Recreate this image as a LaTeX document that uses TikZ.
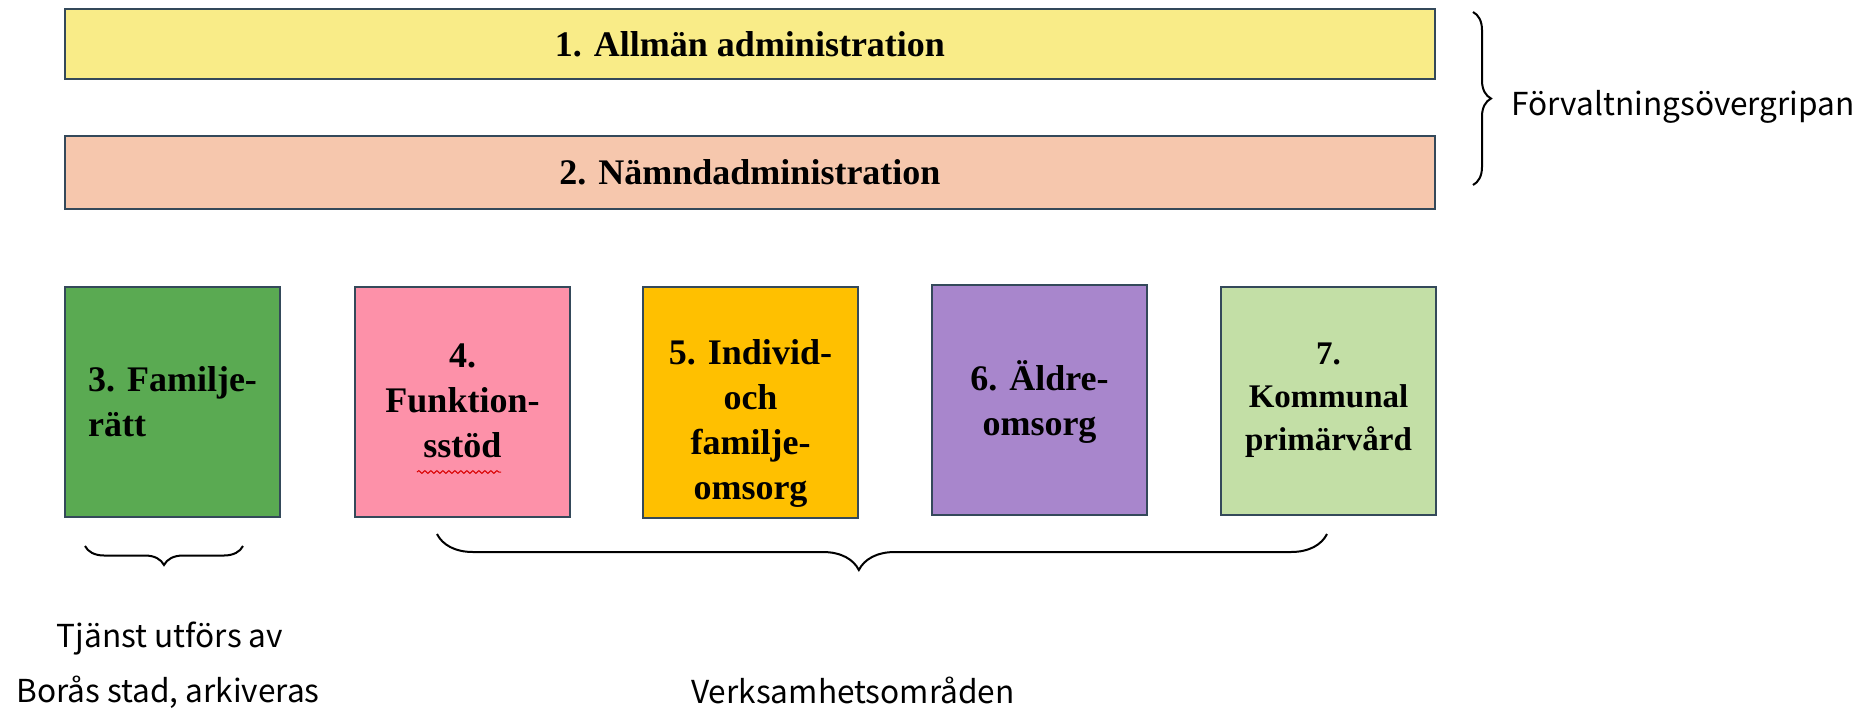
\documentclass[tikz,border=0pt]{standalone}
\usepackage{fontspec}
\setmainfont{Liberation Serif}
\newfontfamily\labfont{Noto Sans CJK JP}
\usetikzlibrary{decorations.pathreplacing,decorations.pathmorphing}
\definecolor{bord}{HTML}{34495A}
\definecolor{cyellow}{HTML}{F9EC88}
\definecolor{cpeach}{HTML}{F6C7AD}
\definecolor{cgreen}{HTML}{5AAA52}
\definecolor{cpink}{HTML}{FD91A9}
\definecolor{cgold}{HTML}{FFC000}
\definecolor{cpurple}{HTML}{A886CC}
\definecolor{clgreen}{HTML}{C3DFA6}
\begin{document}
\begin{tikzpicture}[x=0.5pt,y=-0.5pt,
  bar/.style={draw=bord,line width=1pt,anchor=north west,minimum width=685pt,
    font=\bfseries\fontsize{18}{22.5}\selectfont,inner sep=0},
  area/.style={draw=bord,line width=1pt,anchor=north west,minimum width=107.5pt,
    minimum height=115pt,inner sep=0},
  btext/.style={font=\bfseries\fontsize{18}{22.5}\selectfont,align=center,inner sep=0},
  lab/.style={font=\labfont\fontsize{15.8}{20}\selectfont,inner sep=0},
  brc/.style={draw=black,line width=1pt,decorate,decoration={brace,amplitude=#1}}
]
\useasboundingbox (0,0) rectangle (1870,708);
% top bars
\node[bar,fill=cyellow,minimum height=35.2pt] (b1) at (64,8) {1. Allmän administration};
\node[bar,fill=cpeach,minimum height=36.4pt] (b2) at (64,135) {2. Nämndadministration};
% area boxes
\node[area,fill=cgreen] (b3) at (64,286) {};
\node[area,fill=cpink] (b4) at (354,286) {};
\node[area,fill=cgold,minimum height=115.5pt] (b5) at (642,286) {};
\node[area,fill=cpurple] (b6) at (931,284) {};
\node[area,fill=clgreen,minimum height=114pt] (b7) at (1220,286) {};
% texts
\node[btext,align=left] (t3) at (b3.center |- 0,402) {3. Familje-\\rätt};
\node[btext] (t4) at (b4.center |- 0,401) {4.\\Funktion-\\sstöd};
\node[btext] (t5) at (b5.center |- 0,423) {5. Individ-\\och\\familje-\\omsorg};
\node[btext] (t6) at (b6.center |- 0,402) {6. Äldre-\\omsorg};
\node[btext,font=\bfseries\fontsize{16.5}{21.5}\selectfont] (t7) at (b7.center |- 0,400) {7.\\Kommunal\\primärvård};
% spell-check underline
\coordinate (u1) at (417,472);
\coordinate (u2) at (501,472);
\draw[red!85!black,line width=0.5pt,decorate,decoration={snake,amplitude=0.7pt,segment length=3pt}] (u1) -- (u2);
% braces
\coordinate (r1) at (1473,12);
\coordinate (r2) at (1473,185);
\draw[brc=9pt] (r1) -- (r2);
\coordinate (s1) at (243,546);
\coordinate (s2) at (85,546);
\draw[brc=9.5pt] (s1) -- (s2);
\coordinate (g1) at (1327,534);
\coordinate (g2) at (437,534);
\draw[brc=18pt,decoration={aspect=0.526}] (g1) -- (g2);
% labels
\node[lab,anchor=west] (l1) at (1511,107) {Förvaltningsövergripan};
\node[lab] (l2) at (170,639) {Tjänst utförs av};
\node[lab] (l3) at (168,692) {Borås stad, arkiveras};
\node[lab] (l4) at (853,690) {Verksamhetsområden};
\end{tikzpicture}
\end{document}
